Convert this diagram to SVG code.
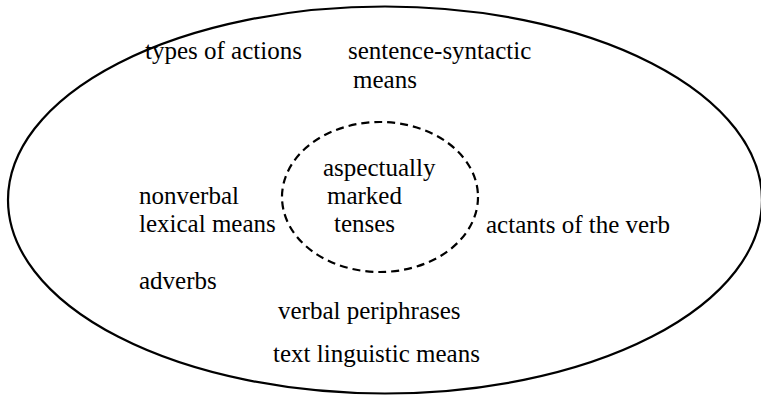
<svg xmlns="http://www.w3.org/2000/svg" width="761" height="395" viewBox="0 0 761 395">
<style>
text{font-family:"Liberation Serif","Times New Roman",serif;font-size:25px;fill:#000}
.outer{fill:none;stroke:#000;stroke-width:2.2}
.inner{fill:none;stroke:#000;stroke-width:2.2;stroke-dasharray:8 5}
</style>
<rect width="761" height="395" fill="#fff"/>
<g id="outer-ellipse"><ellipse class="outer" cx="385" cy="200" rx="377" ry="193.5"/></g>
<g id="inner-ellipse"><ellipse class="inner" cx="380" cy="197" rx="98" ry="75"/></g>
<g id="types-of-actions"><text x="145" y="59">types of actions</text></g>
<g id="sentence-syntactic"><text x="348" y="59">sentence-syntactic</text><text x="353" y="88">means</text></g>
<g id="aspectually-marked-tenses"><text x="323" y="176">aspectually</text><text x="327" y="204">marked</text><text x="334" y="232">tenses</text></g>
<g id="nonverbal-lexical"><text x="139" y="204">nonverbal</text><text x="139" y="232">lexical means</text></g>
<g id="actants"><text x="486" y="233">actants of the verb</text></g>
<g id="adverbs"><text x="139" y="289">adverbs</text></g>
<g id="verbal-periphrases"><text x="278" y="319">verbal periphrases</text></g>
<g id="text-linguistic"><text x="273" y="362">text linguistic means</text></g>
<g id="connectors"></g>
</svg>
